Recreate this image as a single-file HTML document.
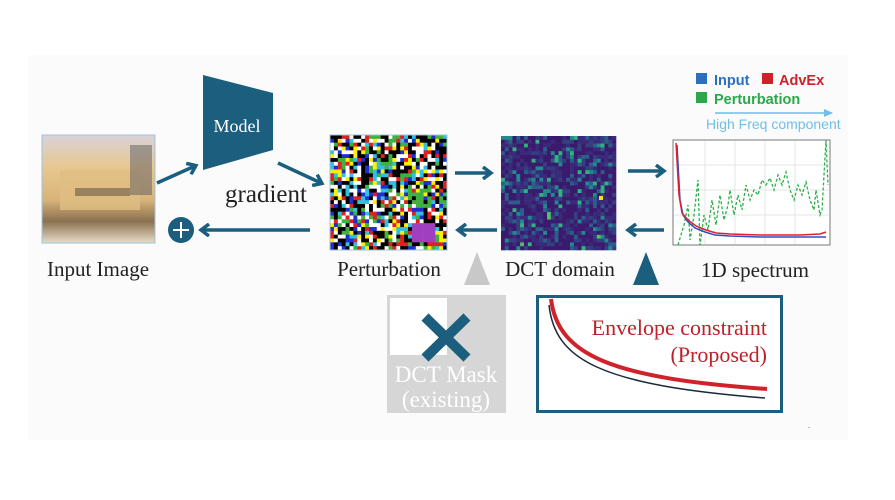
<!DOCTYPE html>
<html><head><meta charset="utf-8"><style>
body{margin:0;background:#fff;}
svg{display:block;font-family:"Liberation Serif",serif;}
.s{font-family:"Liberation Sans",sans-serif;font-weight:bold;}
</style></head><body>
<svg id="sv" width="895" height="500" viewBox="0 0 895 500" xmlns="http://www.w3.org/2000/svg">
<defs>
<marker id="ah" markerWidth="12" markerHeight="14" refX="8" refY="7" orient="auto" markerUnits="userSpaceOnUse"><path d="M1,1 L9,7 L1,13" fill="none" stroke="#1b5e7e" stroke-width="3.5"/></marker>
<marker id="lb" markerWidth="10" markerHeight="8" refX="8" refY="4" orient="auto" markerUnits="userSpaceOnUse"><path d="M0,0 L9,4 L0,8Z" fill="#6ec0e6"/></marker>
<linearGradient id="boat" x1="0" y1="0" x2="0" y2="1"><stop offset="0" stop-color="#d9d2d8"/><stop offset="0.3" stop-color="#e8c890"/><stop offset="0.6" stop-color="#d8b37a"/><stop offset="0.8" stop-color="#8a7050"/><stop offset="1" stop-color="#e8dcc8"/></linearGradient>
</defs>
<rect x="28" y="55" width="820" height="385" fill="#fbfbfb"/>
<rect x="42" y="135" width="113" height="108" fill="url(#boat)" stroke="#9cc4dc"/>
<rect x="60" y="170" width="80" height="40" fill="#e0be82" opacity="0.8"/>
<rect x="75" y="188" width="55" height="8" fill="#6a5a48" opacity="0.6"/>
<rect x="130" y="145" width="22" height="50" fill="#5a5a60" opacity="0.5"/>
<polygon points="203,75 273,93 273,150 203,170" fill="#1b5e7e"/>
<text x="237" y="132" fill="#fff" font-size="18" text-anchor="middle">Model</text>
<line x1="157" y1="183" x2="195" y2="166" stroke="#1b5e7e" stroke-width="3.5" marker-end="url(#ah)"/>
<line x1="278" y1="163" x2="321" y2="183" stroke="#1b5e7e" stroke-width="3.5" marker-end="url(#ah)"/>
<text x="266" y="202" font-size="25" text-anchor="middle" fill="#222">gradient</text>
<g id="pert"></g>
<rect x="330" y="135" width="117" height="115" fill="none" stroke="#9cc4dc"/>
<circle cx="181" cy="230" r="13" fill="#1b5e7e"/>
<path d="M173,230h16M181,222v16" stroke="#fff" stroke-width="2"/>
<line x1="310" y1="230" x2="202" y2="230" stroke="#1b5e7e" stroke-width="3.5" marker-end="url(#ah)"/>
<line x1="455" y1="173" x2="490" y2="173" stroke="#1b5e7e" stroke-width="3.5" marker-end="url(#ah)"/>
<line x1="497" y1="230" x2="459" y2="230" stroke="#1b5e7e" stroke-width="3.5" marker-end="url(#ah)"/>
<g id="dct"></g>
<line x1="628" y1="171" x2="663" y2="171" stroke="#1b5e7e" stroke-width="3.5" marker-end="url(#ah)"/>
<line x1="664" y1="230" x2="629" y2="230" stroke="#1b5e7e" stroke-width="3.5" marker-end="url(#ah)"/>
<rect x="673" y="140" width="157" height="105" fill="#fff" stroke="#777"/>
<g stroke="#e6e6e6" stroke-width="1">
<line x1="705" y1="141" x2="705" y2="244"/><line x1="735" y1="141" x2="735" y2="244"/><line x1="765" y1="141" x2="765" y2="244"/><line x1="795" y1="141" x2="795" y2="244"/>
<line x1="674" y1="165" x2="829" y2="165"/><line x1="674" y1="190" x2="829" y2="190"/><line x1="674" y1="215" x2="829" y2="215"/></g>
<polyline fill="none" stroke="#2db04a" stroke-width="1.3" stroke-dasharray="3,2" points="678,245 684,225 688,205 690,240 694,215 698,180 700,245 704,215 708,230 712,200 716,225 720,195 724,220 728,205 730,190 734,215 738,195 742,210 746,185 750,200 754,190 758,195 762,180 766,185 770,178 774,190 778,175 782,185 786,172 790,190 794,200 798,185 802,195 806,182 810,200 814,210 816,190 820,215 822,210 826,140 828,185"/>
<polyline fill="none" stroke="#3050c0" stroke-width="1.5" points="677,145 680,200 683,215 688,222 695,228 705,232 715,235 730,236 760,237 800,237 826,237"/>
<polyline fill="none" stroke="#e02030" stroke-width="1.5" points="676,143 679,195 682,213 688,220 696,226 706,230 716,233 730,234 760,235 800,235 820,234 826,232"/>
<rect x="696" y="73" width="11" height="11" fill="#2b6fc0"/>
<text x="714" y="85" class="s" font-size="14.5" fill="#2b6fc0">Input</text>
<rect x="762" y="73" width="11" height="11" fill="#d0202a"/>
<text x="779" y="85" class="s" font-size="14.5" fill="#d0202a">AdvEx</text>
<rect x="696" y="92" width="11" height="11" fill="#2aa84a"/>
<text x="714" y="104" class="s" font-size="14.5" fill="#2aa84a">Perturbation</text>
<line x1="715" y1="113" x2="832" y2="113" stroke="#6ec0e6" stroke-width="1.5" marker-end="url(#lb)"/>
<text x="706" y="129" font-family="Liberation Sans,sans-serif" font-size="14" fill="#6ec0e6">High Freq component</text>
<g font-size="21" fill="#222" text-anchor="middle">
<text x="98" y="276">Input Image</text>
<text x="389" y="276">Perturbation</text>
<text x="560" y="276">DCT domain</text>
<text x="755" y="277">1D spectrum</text></g>
<polygon points="477,252 490,285 464,285" fill="#c8c8c8"/>
<polygon points="646,252 659,285 633,285" fill="#1b5e7e"/>
<rect x="387" y="295" width="119" height="118" fill="#d6d6d6"/>
<rect x="390" y="298" width="57" height="57" fill="#fff"/>
<path d="M425,317 L467,358 M467,317 L425,358" stroke="#1b5e7e" stroke-width="10"/>
<g font-size="23" fill="#fff" text-anchor="middle"><text x="446" y="382">DCT Mask</text><text x="446" y="407">(existing)</text></g>
<rect x="537.5" y="296.5" width="244" height="115" fill="#fff" stroke="#1b5e7e" stroke-width="3"/>
<path d="M549,305 C555,360 600,385 765,398" fill="none" stroke="#1a2a3a" stroke-width="1.5"/>
<path d="M551,299 C558,355 610,378 767,389" fill="none" stroke="#d0222a" stroke-width="4"/>
<g font-size="22" fill="#c0202a" text-anchor="end"><text x="767" y="335">Envelope constraint</text><text x="767" y="362">(Proposed)</text></g>
<text x="808" y="428" font-size="8" fill="#c02020">.</text>
</svg>
<script>
(function(){
var ns="http://www.w3.org/2000/svg";var seed=7;function r(){seed=(seed*16807)%2147483647;return seed/2147483647;}
var p=document.getElementById("pert");var cols=["#000","#fff","#fff","#000","#000","#ffee00","#e02020","#30c0e0","#40b040","#2030d0"];
var n=30,w=117/n,h=115/n;
for(var i=0;i<n;i++)for(var j=0;j<n;j++){var e=document.createElementNS(ns,"rect");e.setAttribute("x",330+i*w);e.setAttribute("y",135+j*h);e.setAttribute("width",w+0.3);e.setAttribute("height",h+0.3);
var c=cols[Math.floor(r()*cols.length)];if(i>20&&i<27&&j>22&&j<28)c="#a040c0";if(i>19&&i<26&&j>13&&j<19&&r()<0.7)c="#40b040";e.setAttribute("fill",c);p.appendChild(e);}
var d=document.getElementById("dct");var dc=["#3b1a6e","#3a2a7a","#33407f","#2a5f8a","#218a8d","#2fb47c","#50c060"];
n=30;w=115/n;h=114/n;
for(i=0;i<n;i++)for(j=0;j<n;j++){var e=document.createElementNS(ns,"rect");e.setAttribute("x",501+i*w);e.setAttribute("y",136+j*h);e.setAttribute("width",w+0.3);e.setAttribute("height",h+0.3);
var v=r();var k=v<0.45?0:v<0.7?1:v<0.82?2:v<0.9?3:v<0.96?4:v<0.99?5:6;e.setAttribute("fill",dc[k]);d.appendChild(e);}
var y=document.createElementNS(ns,"rect");y.setAttribute("x",599);y.setAttribute("y",196);y.setAttribute("width",4);y.setAttribute("height",4);y.setAttribute("fill","#f0e020");d.appendChild(y);
})();
</script>
</body></html>
